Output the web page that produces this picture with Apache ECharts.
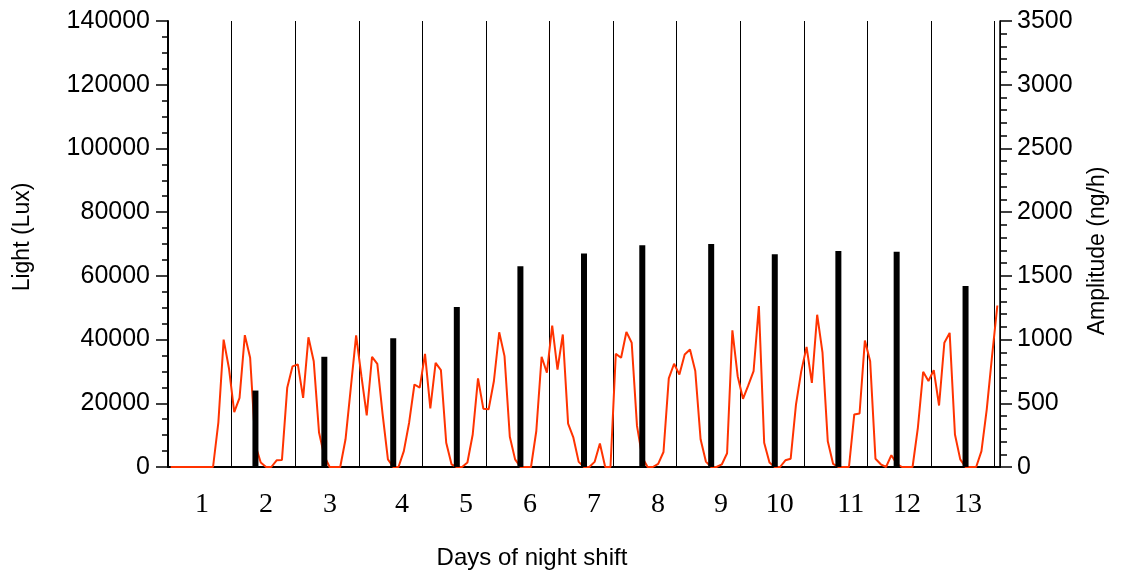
<!DOCTYPE html>
<html>
<head>
<meta charset="utf-8">
<script src="https://cdn.jsdelivr.net/npm/echarts@6/dist/echarts.min.js"></script>
<style>
  html, body { margin: 0; padding: 0; background: #ffffff; }
  #chart { width: 1121px; height: 573px; }
</style>
</head>
<body>
<div id="chart"></div>
<script>
// Light exposure sampled every 2 hours, starting at hour 1 of the first night shift (lux)
const lightStartHour = 1;
const lightStepHours = 2;
const lightLux = [
  0, 0, 0, 0, 0, 0, 0, 0, 0, 13900, 40000, 31000,
  17200, 21700, 41400, 34300, 6800, 1400, 0, 0, 2100, 2200, 24900, 31600,
  32200, 21700, 40700, 33200, 10800, 3400, 0, 0, 0, 8700, 24900, 41300,
  28500, 16200, 34600, 32400, 16500, 2400, 0, 0, 5000, 13900, 25900, 24900,
  35500, 18400, 32700, 30400, 7600, 850, 0, 0, 1400, 10200, 27800, 18300,
  18100, 27000, 42300, 34800, 9500, 2400, 0, 0, 0, 11300, 34600, 29600,
  44400, 30600, 41600, 13600, 9200, 1600, 0, 0, 1600, 7400, 0, 0,
  35500, 34300, 42400, 39000, 12900, 3000, 0, 0, 1000, 4700, 27800, 32400,
  29000, 35300, 36900, 30100, 8700, 1700, 0, 0, 800, 4300, 42900, 28500,
  21400, 25600, 30100, 50500, 7600, 1400, 0, 0, 2100, 2600, 19600, 30100,
  37700, 26400, 47800, 36000, 8100, 1000, 0, 0, 0, 16500, 16800, 39700,
  33200, 2600, 850, 0, 3700, 1000, 0, 0, 0, 12300, 29900, 27000,
  30400, 19300, 39000, 42100, 10200, 2400, 0, 0, 0, 5000, 18100, 34800, 50700
];

// Melatonin amplitude per shift day (ng/h), placed at its hour on the time axis
const amplitudeHours = [33, 59, 85, 109, 133, 157, 179, 205, 229, 253, 275, 301];
const amplitudeValues = [600, 865, 1010, 1255, 1575, 1675, 1740, 1750, 1670, 1695, 1690, 1420];

// Day labels under the time axis
const dayLabels = ['1', '2', '3', '4', '5', '6', '7', '8', '9', '10', '11', '12', '13'];
const dayLabelHours = [12.8, 37, 61.1, 88.3, 112.5, 136.6, 160.8, 184.9, 208.7, 230.9, 257.7, 278.9, 301.9];

const lightPoints = lightLux.map((v, i) => [lightStartHour + i * lightStepHours, v]);
const amplitudePoints = amplitudeHours.map((h, i) => [h, amplitudeValues[i]]);

const chart = echarts.init(document.getElementById('chart'), null, { renderer: 'canvas' });

const sans = 'Liberation Sans';
const serif = 'Liberation Serif';
const plain = (v) => String(v);

chart.setOption({
  animation: false,
  backgroundColor: '#ffffff',
  grid: { left: 168, right: 121, top: 21, bottom: 106, containLabel: false },
  xAxis: [
    {
      type: 'value',
      min: 0,
      max: 314,
      interval: 24,
      position: 'bottom',
      axisLine: { show: true, onZero: false, lineStyle: { color: '#000', width: 2 } },
      axisTick: { show: false },
      axisLabel: { show: false },
      splitLine: { show: true, lineStyle: { color: '#000', width: 1 } }
    },
    {
      type: 'value',
      min: 0,
      max: 314,
      position: 'bottom',
      offset: 0,
      axisLine: { show: false },
      axisTick: { show: false },
      splitLine: { show: false },
      axisLabel: {
        show: true,
        customValues: dayLabelHours,
        formatter: (v) => {
          const i = dayLabelHours.findIndex(h => Math.abs(h - v) < 1e-6);
          return i >= 0 ? dayLabels[i] : '';
        },
        fontFamily: serif,
        fontSize: 28,
        color: '#000',
        margin: 24
      }
    }
  ],
  yAxis: [
    {
      type: 'value',
      min: 0,
      max: 140000,
      interval: 20000,
      position: 'left',
      axisLine: { show: true, onZero: false, lineStyle: { color: '#000', width: 2 } },
      axisTick: { show: true, inside: false, length: 12, lineStyle: { color: '#000', width: 1.5 } },
      minorTick: { show: true, splitNumber: 4, length: 6, lineStyle: { color: '#000', width: 1.5 } },
      splitLine: { show: false },
      axisLabel: { fontFamily: sans, fontSize: 25, color: '#000', margin: 18, formatter: plain }
    },
    {
      type: 'value',
      min: 0,
      max: 3500,
      interval: 500,
      position: 'right',
      axisLine: { show: true, onZero: false, lineStyle: { color: '#000', width: 1.5 } },
      axisTick: { show: true, inside: false, length: 12, lineStyle: { color: '#000', width: 1.5 } },
      minorTick: { show: true, splitNumber: 5, length: 7, lineStyle: { color: '#000', width: 1.5 } },
      splitLine: { show: false },
      axisLabel: { fontFamily: sans, fontSize: 25, color: '#000', margin: 17, formatter: plain }
    }
  ],
  series: [
    {
      name: 'Light',
      type: 'line',
      xAxisIndex: 0,
      yAxisIndex: 0,
      data: lightPoints,
      showSymbol: false,
      smooth: false,
      lineStyle: { color: '#ff3300', width: 2 },
      itemStyle: { color: '#ff3300' },
      z: 3
    },
    {
      name: 'Amplitude',
      type: 'bar',
      xAxisIndex: 0,
      yAxisIndex: 1,
      data: amplitudePoints,
      barWidth: 6,
      itemStyle: { color: '#000' },
      z: 4
    }
  ],
  graphic: [
    {
      type: 'text',
      x: 23, y: 237,
      rotation: Math.PI / 2,
      style: { text: 'Light (Lux)', fontFamily: sans, fontSize: 23, fill: '#000', align: 'center', verticalAlign: 'middle' }
    },
    {
      type: 'text',
      x: 1098, y: 251,
      rotation: Math.PI / 2,
      style: { text: 'Amplitude (ng/h)', fontFamily: sans, fontSize: 23, fill: '#000', align: 'center', verticalAlign: 'middle' }
    },
    {
      type: 'text',
      x: 532, y: 558,
      style: { text: 'Days of night shift', fontFamily: sans, fontSize: 24, fill: '#000', align: 'center', verticalAlign: 'middle' }
    }
  ]
});
</script>
</body>
</html>
